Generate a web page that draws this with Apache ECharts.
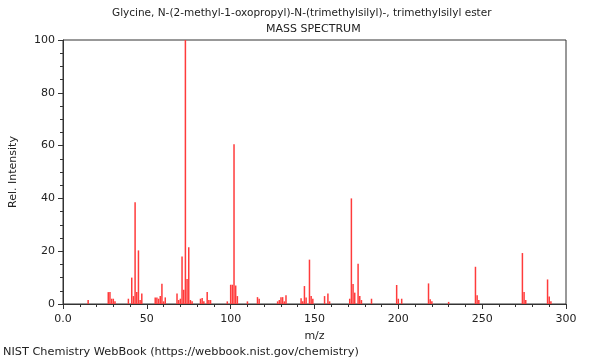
<!DOCTYPE html>
<html><head><meta charset="utf-8">
<script src="https://cdn.jsdelivr.net/npm/echarts@6/dist/echarts.min.js"></script>
<style>html,body{margin:0;padding:0;background:#fff}#c{width:600px;height:360px}</style>
</head><body><div id="c"></div>
<script>
const titleText = "Glycine, N-(2-methyl-1-oxopropyl)-N-(trimethylsilyl)-, trimethylsilyl ester";
const subtitleText = "MASS SPECTRUM";
const footerText = "NIST Chemistry WebBook (https://webbook.nist.gov/chemistry)";
const mzValues = [15,27,28,29,30,31,39,41,42,43,44,45,46,47,55,56,57,58,59,60,61,68,69,70,71,72,73,74,75,76,77,82,83,84,86,87,88,98,100,101,102,103,104,110,116,117,128,129,130,131,132,133,142,143,144,145,147,148,149,156,158,159,171,172,173,174,176,177,178,184,199,200,202,218,219,220,230,246,247,248,274,275,276,289,290,291];
const intensities = [1.5,4.5,4.5,2,2,1,2,10,3,38.5,4.5,20.3,1.5,4,2.5,2.5,2,3,7.7,1,2.5,4,1.5,2,18,5.4,100,9.5,21.5,1.5,1,2,2.3,1,4.5,1.5,1.5,1,7.3,7.3,60.5,7,3,1,2.6,2,1,1.5,2.6,2.6,1,3.3,2.2,1,6.8,2.5,16.8,3,2,3,4,1,2,40,7.6,4.3,15.2,3,1.5,2,7.2,2,2,7.8,1.8,1,0.8,14.1,3.3,1.5,19.3,4.5,1.5,9.3,2.8,1];
const xTicks = [0,50,100,150,200,250,300];
const yTicks = [0,20,40,60,80,100];

const chart = echarts.init(document.getElementById('c'));
const txt = {fontFamily:'DejaVu Sans', fontSize:11, color:'#222'};
chart.setOption({
  animation:false,
  title:[
    {text:titleText, left:112, top:8, padding:0, textStyle:Object.assign({}, txt, {fontSize:10.5, fontWeight:'normal'})},
    {text:subtitleText, left:266, top:24, padding:0, textStyle:Object.assign({}, txt, {fontSize:11, fontWeight:'normal'})},
    {text:footerText, left:3, top:347, padding:0, textStyle:Object.assign({}, txt, {fontSize:11.3, fontWeight:'normal'})}
  ],
  grid:{left:62, right:34, top:40, bottom:56, show:true, borderColor:'#333', borderWidth:1},
  xAxis:{type:'value', min:xTicks[0], max:xTicks[xTicks.length-1], interval:50,
    name:'m/z', nameLocation:'middle', nameGap:27, nameTextStyle:txt,
    axisLine:{lineStyle:{color:'#333'}}, splitLine:{show:false},
    axisTick:{show:true, length:5, lineStyle:{color:'#333'}},
    minorTick:{show:true, splitNumber:5, length:3, lineStyle:{color:'#333'}},
    axisLabel:Object.assign({}, txt, {margin:10, formatter:v=>v===0?'0.0':String(v)})},
  yAxis:{type:'value', min:yTicks[0], max:yTicks[yTicks.length-1], interval:20,
    name:'Rel. Intensity', nameLocation:'middle', nameGap:44, nameRotate:90, nameTextStyle:txt,
    axisLine:{show:true, lineStyle:{color:'#333'}}, splitLine:{show:false},
    axisTick:{show:true, length:5, lineStyle:{color:'#333'}},
    minorTick:{show:true, splitNumber:4, length:3, lineStyle:{color:'#333'}},
    axisLabel:Object.assign({}, txt, {margin:8})},
  series:[{type:'bar', barWidth:1.5, barGap:'-100%',
    itemStyle:{color:'#ff3b3b'},
    data:mzValues.map((m,i)=>[m,intensities[i]])}]
});
</script></body></html>
